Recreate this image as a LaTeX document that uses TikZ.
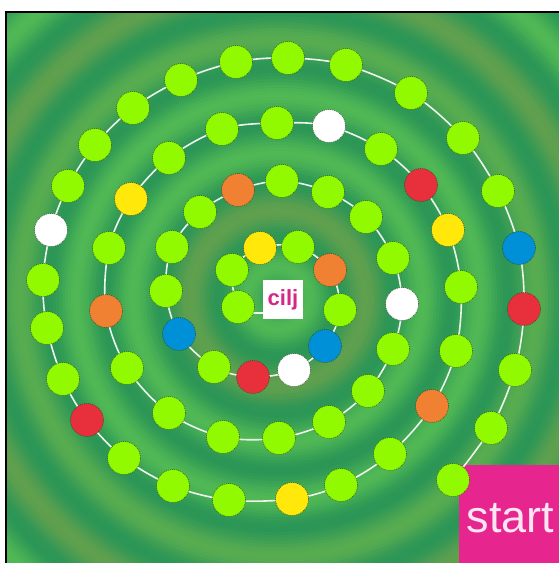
\documentclass[tikz,border=0pt]{standalone}
\usepackage{fontspec}
\setmainfont{Liberation Sans}
\definecolor{bgdark}{RGB}{44,150,86}
\definecolor{bgbright}{RGB}{80,184,84}
\definecolor{bgolive}{RGB}{96,160,78}
\definecolor{bgmid}{RGB}{88,172,80}
\definecolor{limec}{RGB}{145,250,0}
\definecolor{yellowc}{RGB}{255,232,10}
\definecolor{orangec}{RGB}{240,128,50}
\definecolor{redc}{RGB}{232,48,60}
\definecolor{bluec}{RGB}{0,144,216}
\definecolor{whitec}{RGB}{255,255,255}
\definecolor{startc}{RGB}{230,38,142}
\definecolor{starttext}{RGB}{252,228,242}
\definecolor{ciljc}{RGB}{212,40,132}
\definecolor{dotedge}{RGB}{45,70,30}
\definecolor{pathc}{RGB}{236,244,236}
\begin{document}
\begin{tikzpicture}[x=1pt,y=-1pt,
  dot/.style={circle, minimum size=33pt, inner sep=0pt, draw=dotedge, dash pattern=on 1pt off 1pt, line width=0.5pt},
  pathline/.style={draw=pathc, line width=1.6pt},
  frame/.style={line width=2pt, black}]
\useasboundingbox (0,0) rectangle (559,563);
\fill[white] (0,0) rectangle (559,563);
\begin{scope}
\clip (5,11) rectangle (559,563);
\foreach \rr in {429,426,...,3}{
  \pgfmathtruncatemacro\tmix{50+50*cos(6.3158*(\rr-32))}
  \pgfmathtruncatemacro\kk{round((\rr-32)/57)}
  \ifcase\kk \colorlet{pk}{bgbright}\or \colorlet{pk}{bgolive}\or \colorlet{pk}{bgbright}\or
    \colorlet{pk}{bgbright}\or \colorlet{pk}{bgmid}\or \colorlet{pk}{bgolive}\or
    \colorlet{pk}{bgbright}\or \colorlet{pk}{bgolive}\else \colorlet{pk}{bgbright}\fi
  \fill[pk!\tmix!bgdark] (278,298) circle (\rr);
}
\end{scope}
\draw[frame] (5.5,563) -- (5.5,11.5) -- (559,11.5);
\foreach \i/\px/\py in {
 1/453/480, 2/491/428, 3/515/370, 4/524/309, 5/519/248, 6/498/191, 7/463/138, 8/411/93,
 9/346/65, 10/288/58, 11/236/62, 12/181/80, 13/133/108, 14/95/145, 15/68/186, 16/51/230,
 17/43/280, 18/47/328, 19/63/379, 20/87/420, 21/124/458, 22/173/486, 23/229/500, 24/292/499,
 25/341/485, 26/390/454, 27/432/406, 28/456/351, 29/461/287, 30/448/230, 31/421/185, 32/381/149,
 33/329/126, 34/277/123, 35/222/129, 36/169/158, 37/131/199, 38/109/248, 39/106/311, 40/127/368,
 41/169/413, 42/223/437, 43/279/438, 44/329/422, 45/368/391, 46/393/349, 47/402/304, 48/393/258,
 49/366/217, 50/328/192, 51/282/181, 52/238/190, 53/200/212, 54/172/247, 55/166/291, 56/179/334,
 57/214/367, 58/253/377, 59/294/370, 60/325/346, 61/340/310, 62/330/270, 63/298/247, 64/260/248,
 65/232/270, 66/238/307}{
  \coordinate (d\i) at (\px,\py);
}
\node[fill=white, minimum width=40pt, minimum height=39pt, inner sep=0pt] (cilj) at (283,299.5)
  {\fontsize{22}{22}\selectfont\bfseries\color{ciljc}cilj};
\coordinate (cin) at ([yshift=6pt]cilj.south west);
\node[fill=startc, anchor=north west, minimum width=100pt, minimum height=98pt, inner sep=0pt] (start) at (459,465) {};
\node[anchor=base, text=starttext, inner sep=0pt, font=\fontsize{45}{45}\selectfont] (starttxt) at (510.5,532) {start};
\draw[pathline] plot[smooth, tension=0.55] coordinates {(d1) (d2) (d3) (d4) (d5) (d6) (d7) (d8) (d9) (d10)
 (d11) (d12) (d13) (d14) (d15) (d16) (d17) (d18) (d19) (d20) (d21) (d22) (d23) (d24) (d25) (d26) (d27) (d28)
 (d29) (d30) (d31) (d32) (d33) (d34) (d35) (d36) (d37) (d38) (d39) (d40) (d41) (d42) (d43) (d44) (d45) (d46)
 (d47) (d48) (d49) (d50) (d51) (d52) (d53) (d54) (d55) (d56) (d57) (d58) (d59) (d60) (d61) (d62) (d63) (d64)
 (d65) (d66)};
\draw[pathline] (d66 |- cin) -- (cin);
\foreach \i/\c in {1/limec, 2/limec, 3/limec, 4/redc, 5/bluec, 6/limec, 7/limec, 8/limec, 9/limec, 10/limec,
 11/limec, 12/limec, 13/limec, 14/limec, 15/limec, 16/whitec, 17/limec, 18/limec, 19/limec, 20/redc,
 21/limec, 22/limec, 23/limec, 24/yellowc, 25/limec, 26/limec, 27/orangec, 28/limec, 29/limec, 30/yellowc,
 31/redc, 32/limec, 33/whitec, 34/limec, 35/limec, 36/limec, 37/yellowc, 38/limec, 39/orangec, 40/limec,
 41/limec, 42/limec, 43/limec, 44/limec, 45/limec, 46/limec, 47/whitec, 48/limec, 49/limec, 50/limec,
 51/limec, 52/orangec, 53/limec, 54/limec, 55/limec, 56/bluec, 57/limec, 58/redc, 59/whitec, 60/bluec,
 61/limec, 62/orangec, 63/limec, 64/yellowc, 65/limec, 66/limec}{
  \node[dot, fill=\c] (n\i) at (d\i) {};
}
\end{tikzpicture}
\end{document}
